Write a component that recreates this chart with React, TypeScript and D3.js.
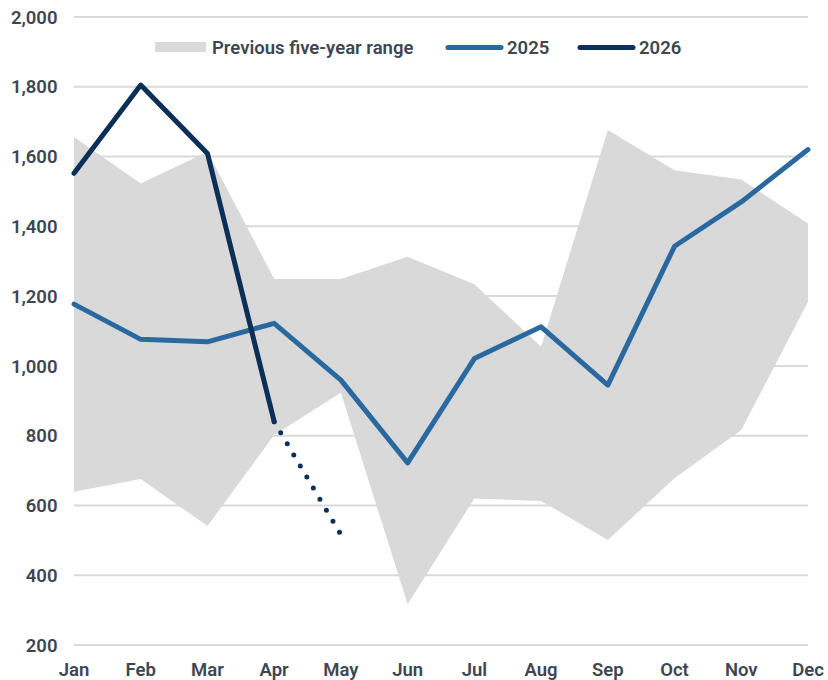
import React from "react";
import * as d3 from "d3";

const months = ["Jan", "Feb", "Mar", "Apr", "May", "Jun", "Jul", "Aug", "Sep", "Oct", "Nov", "Dec"];
const rangeHigh = [1656, 1523, 1614, 1249, 1249, 1313, 1234, 1055, 1676, 1561, 1534, 1408];
const rangeLow = [639, 676, 541, 802, 923, 317, 620, 613, 501, 678, 816, 1184];
const values2025 = [1177, 1076, 1069, 1122, 959, 722, 1021, 1112, 945, 1343, 1470, 1620];
const values2026 = [1552, 1805, 1609, 840];
const projection2026Months = ["Apr", "May"];
const projection2026 = [840, 516];
const yTicks = [200, 400, 600, 800, 1000, 1200, 1400, 1600, 1800, 2000];
const legendLabels = ["Previous five-year range", "2025", "2026"];

const W = 828;
const H = 680;
const TEXT = "#3e4652";
const GRID = "#d9d9d9";
const BAND = "#d9d9d9";
const C2025 = "#2a69a0";
const C2026 = "#0c2f58";
const FONT = "Roboto, 'Noto Sans', sans-serif";
const FS = 18.5;

export default function App() {
  const x = d3.scalePoint<string>().domain(months).range([74, 808]);
  const y = d3.scaleLinear().domain([200, 2000]).range([645, 17]);

  const area = d3
    .area<number>()
    .x((_, i) => x(months[i]) as number)
    .y0((_, i) => y(rangeLow[i]))
    .y1((d) => y(d));

  const line = d3
    .line<number>()
    .x((_, i) => x(months[i]) as number)
    .y((d) => y(d));

  const projLine = d3
    .line<number>()
    .x((_, i) => x(projection2026Months[i]) as number)
    .y((d) => y(d));

  const fmt = d3.format(",");

  return (
    <svg
      width={W}
      height={H}
      style={{ position: "absolute", left: 0, top: 0, display: "block", background: "#fff" }}
      fontFamily={FONT}
    >
      {yTicks.map((t) => (
        <line key={t} x1={74} x2={808} y1={y(t)} y2={y(t)} stroke={GRID} strokeWidth={2} />
      ))}
      <path d={area(rangeHigh) || ""} fill={BAND} />
      <path d={line(values2025) || ""} fill="none" stroke={C2025} strokeWidth={5} strokeLinejoin="round" strokeLinecap="round" />
      <path d={line(values2026) || ""} fill="none" stroke={C2026} strokeWidth={5} strokeLinejoin="round" strokeLinecap="round" />
      <path
        d={projLine(projection2026) || ""}
        fill="none"
        stroke={C2026}
        strokeWidth={5}
        strokeLinecap="round"
        strokeDasharray="0 12.85"
      />
      {yTicks.map((t) => (
        <text key={t} x={57.5} y={y(t)} dy="0.36em" textAnchor="end" fontSize={FS} fontWeight={600} fill={TEXT}>
          {fmt(t)}
        </text>
      ))}
      {months.map((m) => (
        <text key={m} x={x(m)} y={676} textAnchor="middle" fontSize={FS} fontWeight={600} fill={TEXT}>
          {m}
        </text>
      ))}
      <g>
        <rect x={155} y={42} width={51} height={10} fill={BAND} />
        <text x={212} y={53.5} fontSize={FS} fontWeight={600} fill={TEXT}>
          {legendLabels[0]}
        </text>
        <line x1={448} x2={501} y1={47.5} y2={47.5} stroke={C2025} strokeWidth={5} strokeLinecap="round" />
        <text x={507} y={53.5} fontSize={FS} fontWeight={600} fill={TEXT}>
          {legendLabels[1]}
        </text>
        <line x1={580} x2={633} y1={47.5} y2={47.5} stroke={C2026} strokeWidth={5} strokeLinecap="round" />
        <text x={639} y={53.5} fontSize={FS} fontWeight={600} fill={TEXT}>
          {legendLabels[2]}
        </text>
      </g>
    </svg>
  );
}
